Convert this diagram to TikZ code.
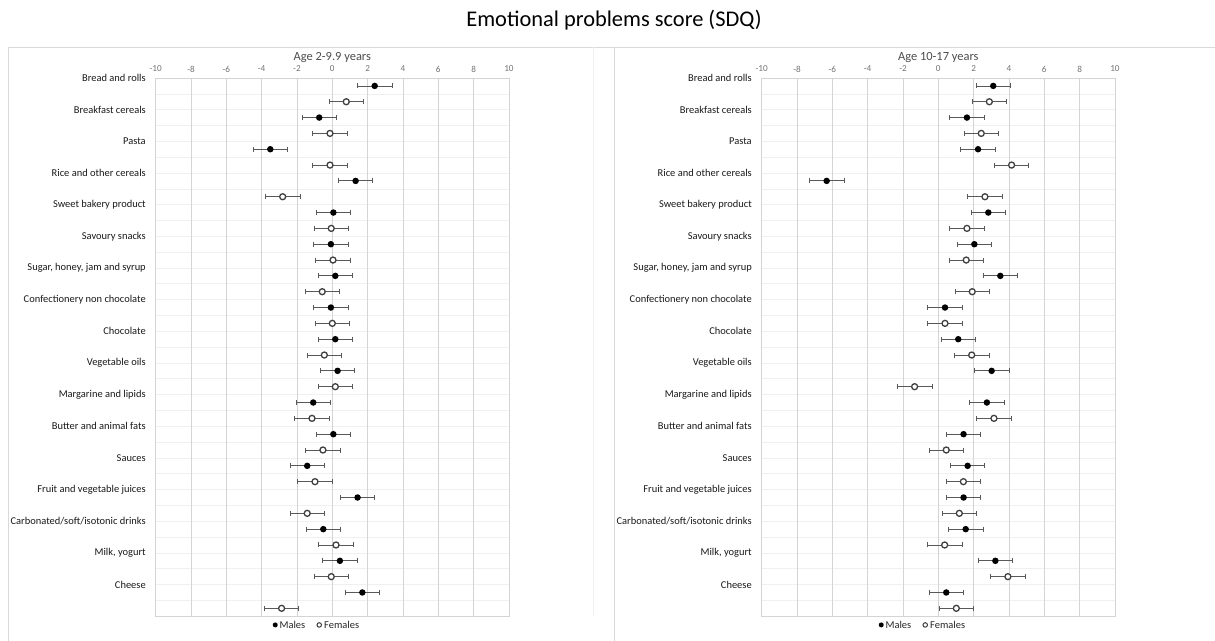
\documentclass[tikz,border=0pt]{standalone}
\usepackage{fontspec}
\setmainfont{Carlito}
\usetikzlibrary{positioning,arrows.meta}

\begin{document}
\begin{tikzpicture}[x=1bp,y=-1bp,
  panel/.style={draw=black!15,line width=0.8bp},
  vgrid/.style={draw=black!17,line width=0.8bp},
  hgrid/.style={draw=black!6,line width=0.6bp},
  tick/.style={font=\fontsize{9.2}{10}\selectfont,text=black!55,inner sep=0},
  ptitle/.style={font=\fontsize{12.5}{14}\selectfont,text=black!70,inner sep=0},
  cat/.style={font=\fontsize{10.5}{12}\selectfont,text=black!90,anchor=east,inner sep=0},
  key/.style={font=\fontsize{10.5}{12}\selectfont,text=black!85,inner sep=0},
  err/.style={draw=black!65,line width=0.8bp,{Bar[width=5bp]}-{Bar[width=5bp]}},
  male/.style={circle,fill=black,minimum size=6.5bp,inner sep=0},
  female/.style={circle,draw=black!75,line width=1.3bp,fill=white,minimum size=6bp,inner sep=0}]
\useasboundingbox (0,0) rectangle (1215,641);

\node (title) at (614,20) {\fontsize{22.5}{26}\selectfont Emotional problems score (SDQ)};

\draw[panel] (8,641) -- (8,47) -- (1215,47);
\draw[panel] (614,47) -- (614,641);
\draw[hgrid] (593,47) -- (593,616);

% left panel, age 2-9.9
\begin{scope}[shift={(332.3,78)},x=17.665bp,y=-15.83bp]
\foreach \r in {1,...,33} \draw[hgrid] (-10,\r) -- (10,\r);
\foreach \v in {-8,-6,...,8} \draw[vgrid] (\v,0) -- (\v,34);
\draw[vgrid] (-10,0) rectangle (10,34);
\foreach \v in {-10,-8,...,10} \node[tick] (la\v) at (\v,-0.57) {\v};
\node[ptitle] (lt) at (0,-1.28) {Age 2-9.9 years};

\foreach \n [count=\j from 0] in {Bread and rolls,Breakfast cereals,Pasta,Rice and other cereals,
  Sweet bakery product,Savoury snacks,{Sugar, honey, jam and syrup},Confectionery non chocolate,
  Chocolate,Vegetable oils,Margarine and lipids,Butter and animal fats,Sauces,
  Fruit and vegetable juices,Carbonated/soft/isotonic drinks,{Milk, yogurt},Cheese}
  \node[cat] (lc\j) at (-10.55,2*\j) {\n};

\foreach \v [count=\j from 0] in {2.40,-0.74,-3.51,1.32,0.06,-0.08,0.17,-0.08,0.17,
  0.30,-1.08,0.06,-1.42,1.43,-0.51,0.43,1.70} {
  \draw[err] (\v-1,2*\j+0.5) -- (\v+1,2*\j+0.5);
  \node[male] (lm\j) at (\v,2*\j+0.5) {};
}
\foreach \v [count=\j from 0] in {0.79,-0.13,-0.13,-2.81,-0.06,0.04,-0.57,0.00,-0.45,
  0.17,-1.15,-0.53,-0.98,-1.42,0.21,-0.06,-2.87} {
  \draw[err] (\v-1,2*\j+1.5) -- (\v+1,2*\j+1.5);
  \node[female] (lf\j) at (\v,2*\j+1.5) {};
}

\node[male,minimum size=5bp] (lkm) at (-3.23,34.55) {};
\node[key,right=1.5bp of lkm] (lkmt) {Males};
\node[female,minimum size=4.5bp,line width=1bp,right=11bp of lkmt] (lkf) {};
\node[key,right=2bp of lkf] (lkft) {Females};
\end{scope}

% right panel, age 10-17
\begin{scope}[shift={(938.3,78)},x=17.665bp,y=-15.83bp]
\foreach \r in {1,...,33} \draw[hgrid] (-10,\r) -- (10,\r);
\foreach \v in {-8,-6,...,8} \draw[vgrid] (\v,0) -- (\v,34);
\draw[vgrid] (-10,0) rectangle (10,34);
\foreach \v in {-10,-8,...,10} \node[tick] (ra\v) at (\v,-0.57) {\v};
\node[ptitle] (rt) at (0,-1.28) {Age 10-17 years};

\foreach \n [count=\j from 0] in {Bread and rolls,Breakfast cereals,Pasta,Rice and other cereals,
  Sweet bakery product,Savoury snacks,{Sugar, honey, jam and syrup},Confectionery non chocolate,
  Chocolate,Vegetable oils,Margarine and lipids,Butter and animal fats,Sauces,
  Fruit and vegetable juices,Carbonated/soft/isotonic drinks,{Milk, yogurt},Cheese}
  \node[cat] (rc\j) at (-10.55,2*\j) {\n};

\foreach \v [count=\j from 0] in {3.11,1.62,2.25,-6.32,2.83,2.04,3.51,0.38,1.13,
  3.02,2.75,1.43,1.66,1.43,1.55,3.23,0.45} {
  \draw[err] (\v-1,2*\j+0.5) -- (\v+1,2*\j+0.5);
  \node[male] (rm\j) at (\v,2*\j+0.5) {};
}
\foreach \v [count=\j from 0] in {2.89,2.43,4.15,2.64,1.62,1.58,1.92,0.38,1.89,
  -1.34,3.15,0.45,1.42,1.19,0.36,3.94,1.02} {
  \draw[err] (\v-1,2*\j+1.5) -- (\v+1,2*\j+1.5);
  \node[female] (rf\j) at (\v,2*\j+1.5) {};
}

\node[male,minimum size=5bp] (rkm) at (-3.23,34.55) {};
\node[key,right=1.5bp of rkm] (rkmt) {Males};
\node[female,minimum size=4.5bp,line width=1bp,right=11bp of rkmt] (rkf) {};
\node[key,right=2bp of rkf] (rkft) {Females};
\end{scope}
\end{tikzpicture}
\end{document}
